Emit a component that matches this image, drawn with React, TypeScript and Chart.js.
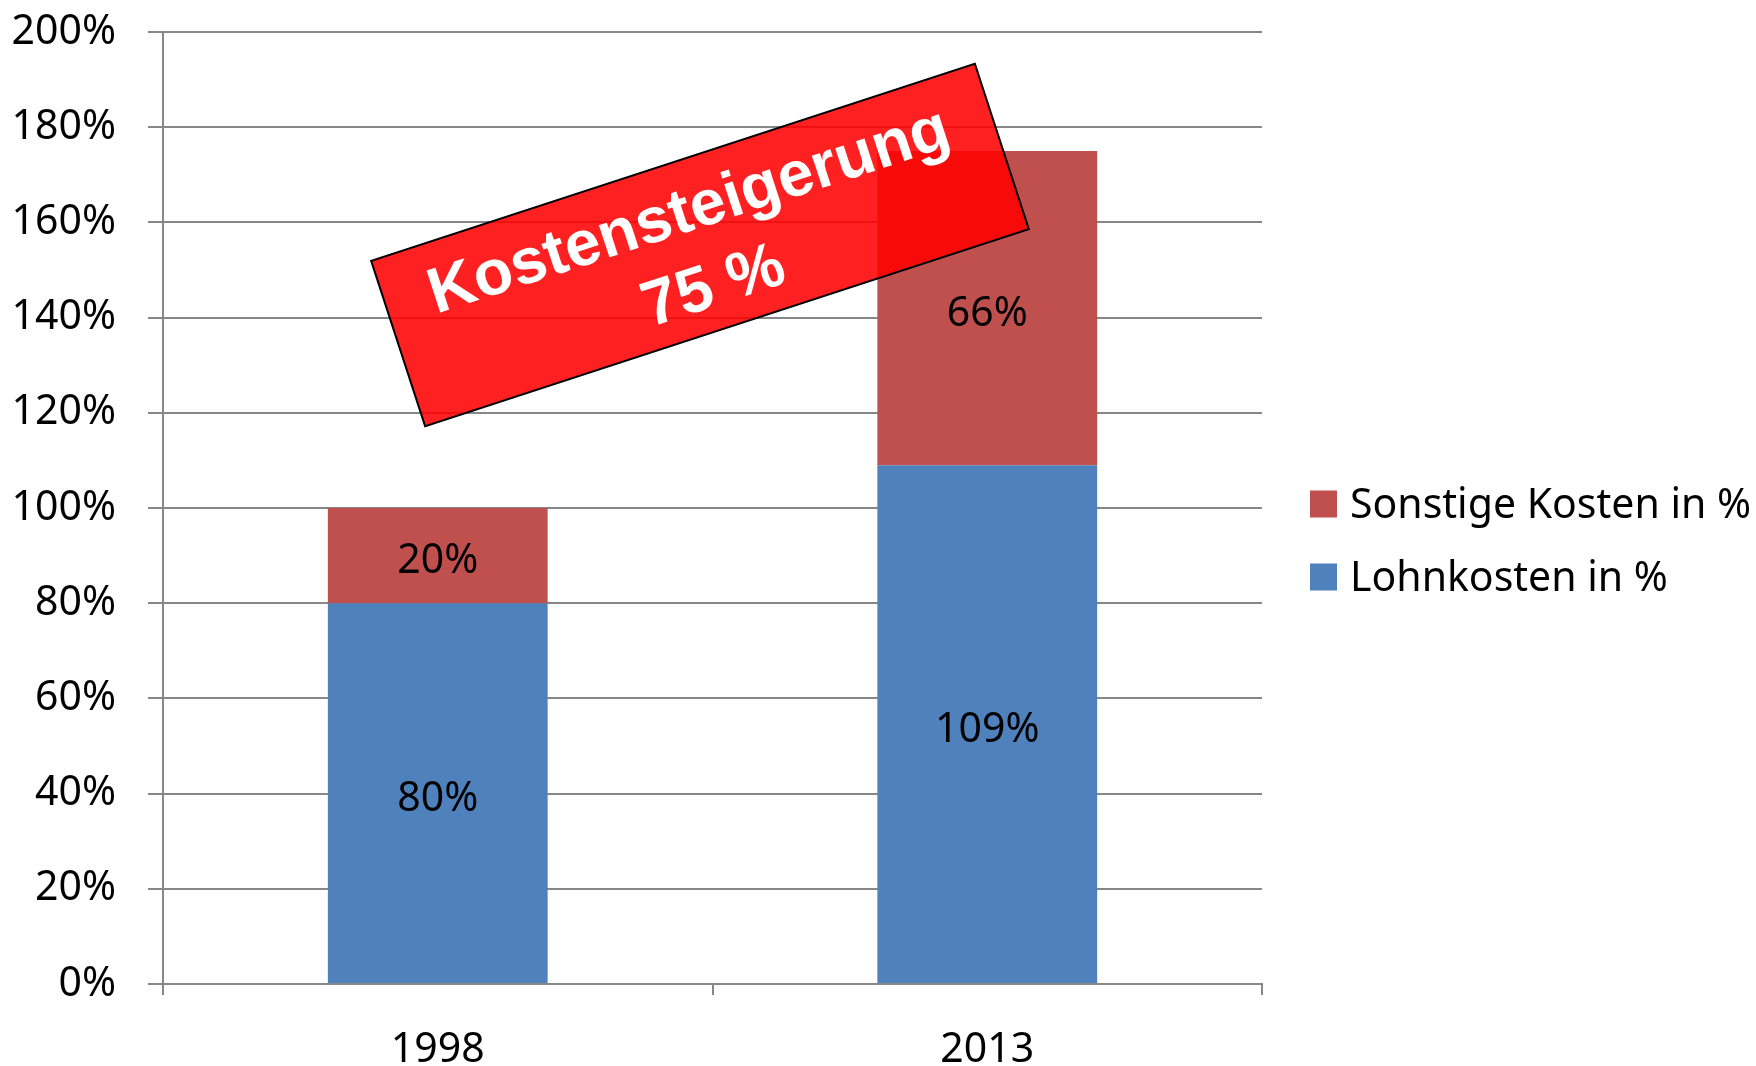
import React, { useEffect, useRef } from "react";
import { Chart, registerables } from "chart.js";

Chart.register(...registerables);

const categories = ["1998", "2013"];
const lohnkosten = [80, 109];
const sonstigeKosten = [20, 66];
const seriesLabels = ["Lohnkosten in %", "Sonstige Kosten in %"];
const seriesColors = ["#4f81bd", "#c0504d"];
const yMin = 0;
const yMax = 200;
const yStep = 20;
const bannerLines = ["Kostensteigerung", "75 %"];

const FONT = '"Noto Sans", "Open Sans", sans-serif';
const GRID = "#878787";
const FS = 41;

const valueLabelPlugin = {
  id: "valueLabels",
  afterDatasetsDraw(chart: any) {
    const ctx = chart.ctx;
    ctx.save();
    ctx.font = `${FS}px ${FONT}`;
    ctx.fillStyle = "#000";
    ctx.textAlign = "center";
    ctx.textBaseline = "middle";
    chart.data.datasets.forEach((ds: any, i: number) => {
      const meta = chart.getDatasetMeta(i);
      meta.data.forEach((el: any, j: number) => {
        const p = el.getCenterPoint();
        ctx.fillText(`${ds.data[j]}%`, p.x, p.y + 6);
      });
    });
    ctx.restore();
  },
};

const legendPlugin = {
  id: "sideLegend",
  afterDraw(chart: any) {
    const ctx = chart.ctx;
    const area = chart.chartArea;
    const items = chart.data.datasets.map((ds: any) => ({ label: ds.label, color: ds.backgroundColor })).reverse();
    ctx.save();
    ctx.font = `${FS}px ${FONT}`;
    ctx.textAlign = "left";
    ctx.textBaseline = "middle";
    const boxX = area.right + 48;
    const startY = 504;
    const step = 73;
    items.forEach((it: any, k: number) => {
      const cy = startY + k * step;
      ctx.fillStyle = it.color;
      ctx.fillRect(boxX, cy - 13.5, 27, 27);
      ctx.fillStyle = "#000";
      ctx.fillText(it.label, boxX + 40, cy + 2);
    });
    ctx.restore();
  },
};

const bannerPlugin = {
  id: "banner",
  afterDraw(chart: any) {
    const ctx = chart.ctx;
    const cx = 700;
    const cy = 245;
    const w = 635;
    const h = 174;
    const angle = (-18.07 * Math.PI) / 180;
    ctx.save();
    ctx.translate(cx, cy);
    ctx.rotate(angle);
    ctx.fillStyle = "rgba(255,0,0,0.87)";
    ctx.fillRect(-w / 2, -h / 2, w, h);
    ctx.lineWidth = 2;
    ctx.strokeStyle = "#000";
    ctx.strokeRect(-w / 2, -h / 2, w, h);
    ctx.fillStyle = "#fff";
    ctx.font = `bold 64px "Liberation Sans", Arial, sans-serif`;
    ctx.textAlign = "center";
    ctx.textBaseline = "middle";
    ctx.fillText(bannerLines[0], 0, -34);
    ctx.fillText(bannerLines[1], 0, 45);
    ctx.restore();
  },
};

export default function App() {
  const ref = useRef<HTMLCanvasElement | null>(null);
  useEffect(() => {
    document.body.style.margin = "0";
    document.body.style.background = "#fff";
    const chart = new Chart(ref.current as HTMLCanvasElement, {
      type: "bar",
      data: {
        labels: categories,
        datasets: [
          { label: seriesLabels[0], data: lohnkosten, backgroundColor: seriesColors[0], barPercentage: 0.4, categoryPercentage: 1 },
          { label: seriesLabels[1], data: sonstigeKosten, backgroundColor: seriesColors[1], barPercentage: 0.4, categoryPercentage: 1 },
        ],
      },
      options: {
        animation: false,
        responsive: false,
        devicePixelRatio: 1,
        layout: { padding: { left: 0, top: 32, right: 494, bottom: 0 } },
        plugins: { legend: { display: false }, tooltip: { enabled: false }, title: { display: false } },
        scales: {
          x: {
            stacked: true,
            afterFit: (s: any) => { s.height = 82; s.paddingLeft = 0; s.paddingRight = 0; },
            grid: { drawOnChartArea: false, drawTicks: true, tickLength: 11, color: GRID, lineWidth: 2, offset: true },
            border: { color: GRID, width: 2 },
            ticks: { color: "#000", font: { family: FONT, size: FS }, padding: 31 },
          },
          y: {
            stacked: true,
            min: yMin,
            max: yMax,
            afterFit: (s: any) => { s.width = 163; s.paddingTop = 0; s.paddingBottom = 0; },
            grid: { color: GRID, lineWidth: 2, tickLength: 15 },
            border: { color: GRID, width: 2 },
            ticks: {
              stepSize: yStep,
              color: "#000",
              font: { family: FONT, size: FS },
              padding: 32,
              callback: (v: any) => `${v}%`,
            },
          },
        },
      },
      plugins: [valueLabelPlugin, legendPlugin, bannerPlugin],
    });
    return () => chart.destroy();
  }, []);
  return (
    <div style={{ width: 1756, height: 1066 }}>
      <canvas ref={ref} width={1756} height={1066} style={{ display: "block" }} />
    </div>
  );
}
